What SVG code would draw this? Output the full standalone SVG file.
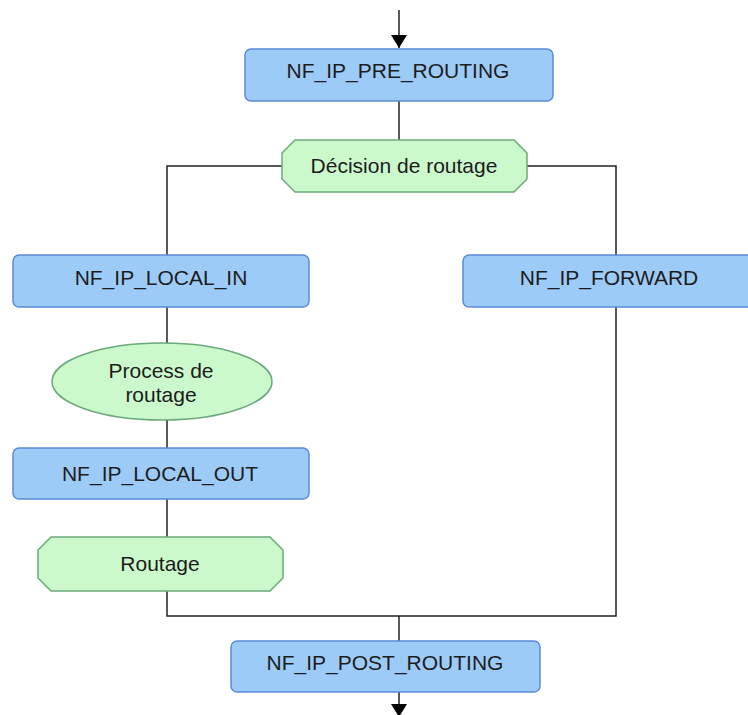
<svg xmlns="http://www.w3.org/2000/svg" width="748" height="715" viewBox="0 0 748 715">
  <defs>
    <style>
      .hook { fill: #9dcbf8; stroke: #5c8bd8; stroke-width: 1.5; }
      .step { fill: #ccf9cc; stroke: #6aa97a; stroke-width: 1.5; }
      .lbl { font-family: "Liberation Sans", Arial, sans-serif; font-size: 21px; fill: #1c1c1c; text-anchor: middle; }
      .wire { fill: none; stroke: #222; stroke-width: 1.5; }
    </style>
    <marker id="arrow" viewBox="0 0 13 16" refX="13" refY="8" markerWidth="13" markerHeight="16" markerUnits="userSpaceOnUse" orient="auto">
      <path d="M0,0 L13,8 L0,16 Z" fill="#000"/>
    </marker>
  </defs>

  <rect width="748" height="715" fill="#fff"/>

  <g id="connectors">
    <line class="wire" x1="399" y1="10" x2="399" y2="48" marker-end="url(#arrow)"/>
    <line class="wire" x1="399" y1="101" x2="399" y2="140"/>
    <polyline class="wire" points="282,166 167,166 167,255"/>
    <polyline class="wire" points="527,166 616,166 616,255"/>
    <line class="wire" x1="167" y1="307" x2="167" y2="343"/>
    <line class="wire" x1="167" y1="420" x2="167" y2="448"/>
    <line class="wire" x1="167" y1="499" x2="167" y2="537"/>
    <polyline class="wire" points="167,591 167,616 616,616 616,307"/>
    <line class="wire" x1="399" y1="616" x2="399" y2="641"/>
    <line class="wire" x1="399" y1="692" x2="399" y2="717" marker-end="url(#arrow)"/>
  </g>

  <g id="pre-routing">
    <rect class="hook" x="245" y="49" width="308" height="52" rx="6"/>
    <text class="lbl" x="398" y="78">NF_IP_PRE_ROUTING</text>
  </g>

  <g id="decision">
    <polygon class="step" points="295,140 514,140 527,153 527,179 514,192 295,192 282,179 282,153"/>
    <text class="lbl" x="404" y="173">Décision de routage</text>
  </g>

  <g id="local-in">
    <rect class="hook" x="13" y="255" width="296" height="52" rx="6"/>
    <text class="lbl" x="161" y="285">NF_IP_LOCAL_IN</text>
  </g>

  <g id="forward">
    <rect class="hook" x="463" y="255" width="300" height="52" rx="6"/>
    <text class="lbl" x="609" y="285">NF_IP_FORWARD</text>
  </g>

  <g id="local-process">
    <ellipse class="step" cx="162" cy="381.5" rx="110" ry="38.5"/>
    <text class="lbl" x="161" y="378">Process de</text>
    <text class="lbl" x="161" y="402">routage</text>
  </g>

  <g id="local-out">
    <rect class="hook" x="13" y="448" width="296" height="51" rx="6"/>
    <text class="lbl" x="160" y="481">NF_IP_LOCAL_OUT</text>
  </g>

  <g id="routage">
    <polygon class="step" points="51,537 270,537 283,550 283,578 270,591 51,591 38,578 38,550"/>
    <text class="lbl" x="160" y="571">Routage</text>
  </g>

  <g id="post-routing">
    <rect class="hook" x="231" y="641" width="309" height="51" rx="6"/>
    <text class="lbl" x="385" y="670">NF_IP_POST_ROUTING</text>
  </g>
</svg>
